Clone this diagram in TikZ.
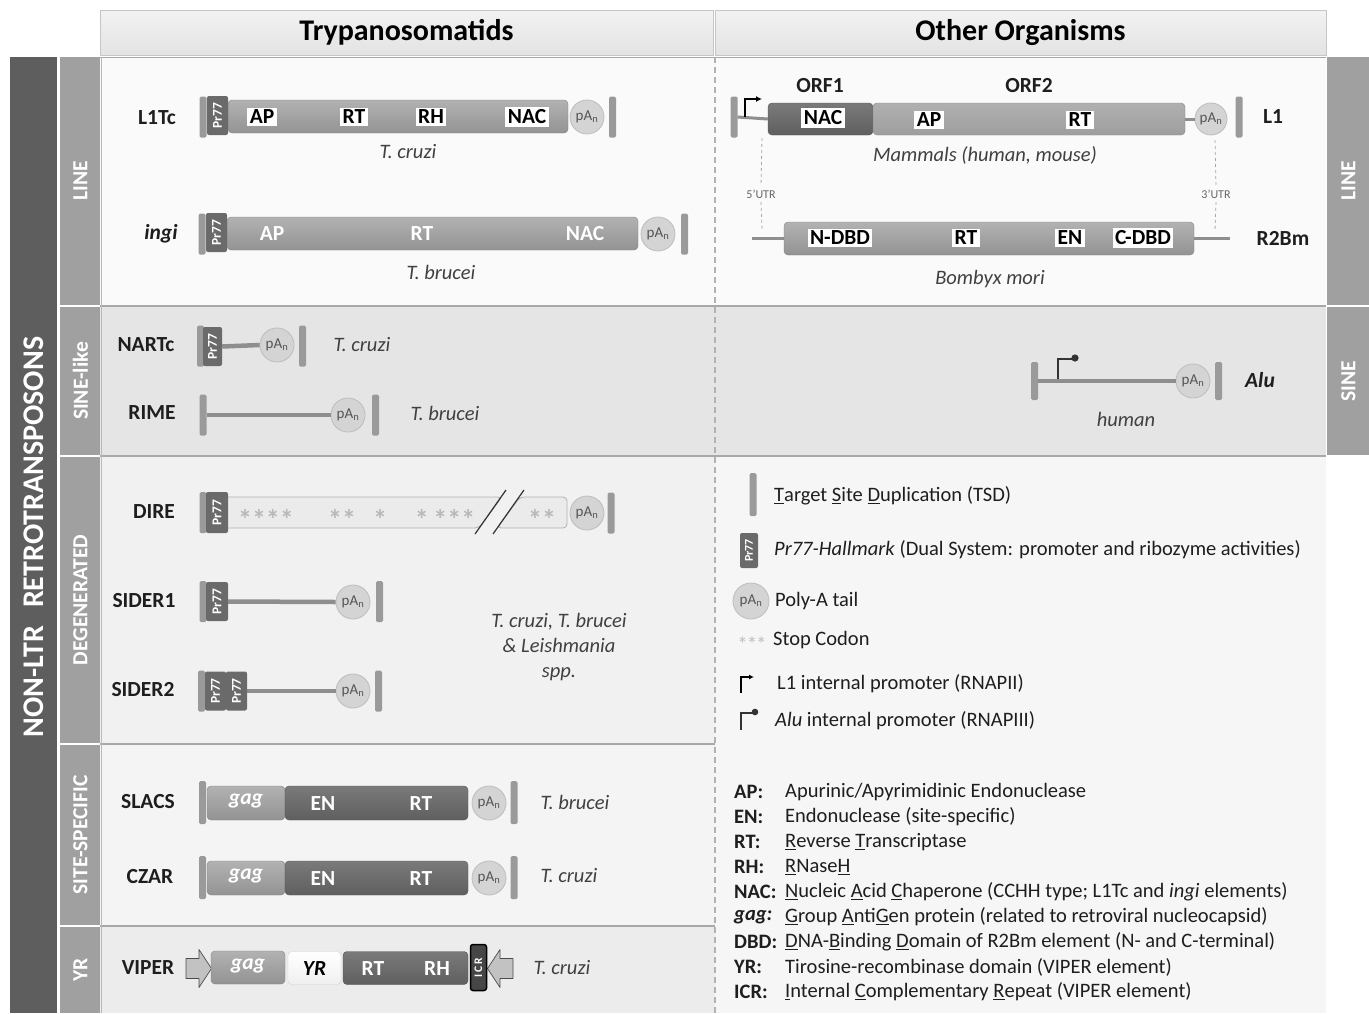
\documentclass[tikz,border=0pt]{standalone}
\usepackage{fontspec}
\setmainfont{Carlito}
\usetikzlibrary{arrows.meta}
\definecolor{darkbar}{HTML}{5E5E5E}
\definecolor{catc}{HTML}{A0A0A0}
\definecolor{tsdc}{HTML}{9A9A9A}
\definecolor{prc}{HTML}{6A6A6A}
\definecolor{bodyT}{HTML}{B2B2B2}
\definecolor{bodyB}{HTML}{939393}
\definecolor{darkT}{HTML}{7A7A7A}
\definecolor{darkB}{HTML}{5F5F5F}
\definecolor{pafill}{HTML}{D4D4D4}
\definecolor{padraw}{HTML}{BDBDBD}
\definecolor{patext}{HTML}{555555}
\definecolor{stemc}{HTML}{8E8E8E}
\definecolor{sepc}{HTML}{A8A8A8}
\definecolor{txt}{HTML}{1E1E1E}
\newcommand{\fsz}[2]{\fontsize{#1}{#2}\selectfont}
\begin{document}
\begin{tikzpicture}[x=1pt,y=-1pt,
  tsd/.style={fill=tsdc, rounded corners=1.5pt, minimum width=7pt, minimum height=41pt, inner sep=0pt},
  prbox/.style={fill=prc, rounded corners=2pt, minimum width=39pt, minimum height=21pt, inner sep=0pt, text=white, font=\fsz{13.5}{13.5}\bfseries, rotate=90},
  bodybox/.style={rounded corners=4pt, top color=bodyT, bottom color=bodyB, draw=bodyB!90!black, line width=0.4pt, minimum height=33pt, inner sep=0pt},
  darkbox/.style={rounded corners=4pt, top color=darkT, bottom color=darkB, draw=darkB!90!black, line width=0.4pt, minimum height=34pt, inner sep=0pt},
  lab/.style={fill=white, inner sep=2.5pt, text=black, font=\fsz{21.5}{21.5}\bfseries},
  wlab/.style={text=white, inner sep=0pt, font=\fsz{21.5}{21.5}\bfseries},
  pa/.style={circle, fill=pafill, draw=padraw, line width=0.8pt, minimum size=34pt, inner sep=0pt, text=patext, font=\fsz{15}{15}},
  stem/.style={draw=stemc, line width=4.5pt},
  thinstem/.style={draw=stemc, line width=3pt},
  ename/.style={text=txt, font=\fsz{21.5}{21.5}\bfseries},
  spec/.style={text=txt!85, font=\fsz{20.5}{20.5}\itshape},
  cat/.style={text=white, font=\fsz{21.5}{21.5}\bfseries, rotate=90},
  legt/.style={anchor=west, text=txt, font=\fsz{20.5}{20.5}, inner sep=0pt},
  abl/.style={anchor=west, text=txt, font=\fsz{20.5}{20.5}\bfseries, inner sep=0pt},
  hdr/.style={text=black, font=\fsz{30}{30}\bfseries},
  star/.style={text=gray!55, font=\fsz{28}{28}\bfseries, inner sep=0pt},
  arrowshape/.style={fill=gray!48, draw=gray!60!black, line width=0.7pt, line join=round}
]
\useasboundingbox (0,0) rectangle (1369,1013);
\fill[white] (0,0) rectangle (1369,1013);
% ---------- headers ----------
\node[draw=gray!45, top color=gray!10, bottom color=gray!22, minimum width=613pt, minimum height=45pt, inner sep=0pt] (hl) at (406.5,32.5) {};
\node[hdr] at (hl) {Trypanosomatids};
\node[draw=gray!45, top color=gray!10, bottom color=gray!22, minimum width=611pt, minimum height=45pt, inner sep=0pt] (hr) at (1020.5,32.5) {};
\node[hdr] at (hr) {Other Organisms};
% ---------- row backgrounds ----------
\fill[gray!4] (100,57) rectangle (1326,305);
\fill[gray!20] (100,307) rectangle (1326,455);
\fill[gray!11] (100,457) rectangle (715,743);
\fill[gray!9] (100,745) rectangle (715,925);
\fill[gray!15] (100,927) rectangle (715,1013);
\fill[gray!7] (715,457) rectangle (1326,1013);
\draw[sepc, line width=0.8pt] (100,57) -- (1326,57);
\draw[sepc, line width=2pt] (100,306) -- (1326,306);
\draw[sepc, line width=2pt] (100,456) -- (1326,456);
\draw[sepc, line width=2pt] (100,744) -- (715,744);
\draw[sepc, line width=2pt] (100,926) -- (715,926);
\draw[gray!55, line width=0.8pt] (101,57) -- (101,1013);
\draw[gray!60, line width=1.2pt, dash pattern=on 6pt off 4pt] (715,57) -- (715,1013);
% ---------- side bars ----------
\fill[darkbar] (10,57) rectangle (57,1013);
\node[text=white, font=\fsz{30}{30}\bfseries, rotate=90] at (33.5,537) {NON-LTR\hspace{0.6em}RETROTRANSPOSONS};
\fill[catc] (60,57) rectangle (100,305);
\fill[catc] (60,307) rectangle (100,455);
\fill[catc] (60,457) rectangle (100,743);
\fill[catc] (60,745) rectangle (100,925);
\fill[catc] (60,927) rectangle (100,1013);
\fill[catc] (1327,57) rectangle (1369,305);
\fill[catc] (1327,307) rectangle (1369,455);
\node[cat] at (80.5,181) {LINE};
\node[cat] at (80.5,381) {SINE-like};
\node[cat] at (80.5,600) {DEGENERATED};
\node[cat] at (80.5,835) {SITE-SPECIFIC};
\node[cat] at (80.5,970) {YR};
\node[cat] at (1348.5,181) {LINE};
\node[cat] at (1348.5,381) {SINE};
% ---------- L1Tc ----------
\node[ename] at (157,118) {L1Tc};
\node[tsd] (l1tcL) at (203,117) {};
\node[bodybox, minimum width=340pt] (l1tcB) at (398,116.5) {};
\node[prbox] (l1tcP) at (217.5,115.5) {Pr77};
\node[lab] at (262,117) {AP};
\node[lab] at (354,117) {RT};
\node[lab] at (431,117) {RH};
\node[lab] at (527,117) {NAC};
\node[pa] (l1tcA) at (587,117) {pA\textsubscript{n}};
\node[tsd] (l1tcR) at (612.5,117) {};
\node[spec] at (408,152) {T. cruzi};
% ---------- ingi ----------
\node[text=txt, font=\fsz{21.5}{21.5}\bfseries\itshape] at (161,234) {ingi};
\node[tsd] (ingiL) at (202,234) {};
\node[bodybox, minimum width=411pt] (ingiB) at (432.5,233.5) {};
\node[prbox] (ingiP) at (216.5,232.5) {Pr77};
\node[wlab] at (272,234) {AP};
\node[wlab] at (422,234) {RT};
\node[wlab] at (585,234) {NAC};
\node[pa] (ingiA) at (658,234) {pA\textsubscript{n}};
\node[tsd] (ingiR) at (684.5,234) {};
\node[spec] at (441,272) {T. brucei};
% ---------- L1 (mammals) ----------
\node[tsd] (l1L) at (734,117) {};
\node[darkbox, minimum width=105pt, minimum height=32pt] (orf1) at (820.5,119) {};
\node[bodybox, minimum width=312pt, minimum height=32pt, top color=gray!62, bottom color=gray!76] (orf2) at (1029,119) {};
\node[pa, minimum size=32pt] (l1A) at (1211,119) {pA\textsubscript{n}};
\draw[thinstem] (l1L.east) -- (orf1.west);
\draw[thinstem] (orf2.east) -- (l1A.west);
\coordinate (l1p0) at (745,117);
\coordinate (l1p1) at (762,99);
\draw[black, line width=1.4pt, -{Latex[length=6pt,width=6pt]}] (l1p0) |- (l1p1);
\node[lab] at (823,118) {NAC};
\node[lab] at (929,120) {AP};
\node[lab] at (1080,120) {RT};
\node[tsd] (l1R) at (1239,117) {};
\node[ename] at (1273,117) {L1};
\node[ename] at (820,86) {ORF1};
\node[ename] at (1029,86) {ORF2};
\node[spec] at (985,155) {Mammals (human, mouse)};
% UTR guides
\node[text=gray!80!black, font=\fsz{12}{12}] (utr5) at (761,194) {5’UTR};
\node[text=gray!80!black, font=\fsz{12}{12}] (utr3) at (1216,194) {3’UTR};
\coordinate (u5a) at (762,138);
\coordinate (u5b) at (762,230);
\coordinate (u3a) at (1215,140);
\coordinate (u3b) at (1215,230);
\draw[gray!70, line width=0.8pt, dashed] (u5a) -- (utr5.north);
\draw[gray!70, line width=0.8pt, dashed] (utr5.south) -- (u5b);
\draw[gray!70, line width=0.8pt, dashed] (u3a) -- (utr3.north);
\draw[gray!70, line width=0.8pt, dashed] (utr3.south) -- (u3b);
% ---------- R2Bm ----------
\coordinate (r2a) at (752,238);
\coordinate (r2b) at (1230,238);
\draw[thinstem] (r2a) -- (r2b);
\node[bodybox, minimum width=410pt] (r2B) at (989,238.5) {};
\node[lab] at (840,238) {N-DBD};
\node[lab] at (966,238) {RT};
\node[lab] at (1070,238) {EN};
\node[lab] at (1143,238) {C-DBD};
\node[ename] at (1283,238) {R2Bm};
\node[spec] at (990,279) {Bombyx mori};
% ---------- NARTc ----------
\node[ename] at (146,345) {NARTc};
\node[tsd] (nartL) at (200.5,346) {};
\node[prbox, minimum height=19pt] (nartP) at (212.5,346.5) {Pr77};
\node[pa] (nartA) at (277,345) {pA\textsubscript{n}};
\draw[stem] (nartP.south) -- (nartA.west);
\node[tsd] (nartR) at (302.5,346) {};
\node[spec] at (362,345) {T. cruzi};
% ---------- RIME ----------
\node[ename] at (152,413) {RIME};
\node[tsd] (rimeL) at (203,415) {};
\node[pa] (rimeA) at (348,415) {pA\textsubscript{n}};
\draw[stem] (rimeL.east) -- (rimeA.west);
\node[tsd] (rimeR) at (375.5,415) {};
\node[spec] at (445,413) {T. brucei};
% ---------- Alu ----------
\node[tsd, minimum height=38pt] (aluL) at (1034.5,381) {};
\node[pa] (aluA) at (1193,381) {pA\textsubscript{n}};
\draw[stem] (aluL.east) -- (aluA.west);
\coordinate (alup0) at (1058,379);
\coordinate (alup1) at (1073,359);
\draw[gray!40!black, line width=1.3pt] (alup0) |- (alup1);
\fill[gray!40!black] (1075,358) circle (3.6pt);
\node[tsd, minimum height=38pt] (aluR) at (1218.5,381) {};
\node[text=txt, font=\fsz{21.5}{21.5}\bfseries\itshape] at (1260,380) {Alu};
\node[spec] at (1126,419) {human};
% ---------- DIRE ----------
\node[ename] at (154,512) {DIRE};
\node[tsd] (direL) at (203,512.5) {};
\fill[gray!16, draw=gray!60, line width=0.8pt, rounded corners=4pt] (222,497) -- (502,497) -- (479,528) -- (222,528) -- cycle;
\fill[gray!16, draw=gray!60, line width=0.8pt, rounded corners=4pt] (520,497) -- (567,497) -- (567,528) -- (497,528) -- cycle;
\draw[gray!40!black, line width=1.2pt] (506,490) -- (475,534);
\draw[gray!40!black, line width=1.2pt] (524,490) -- (493,534);
\node[prbox, minimum width=41pt, minimum height=22pt] (direP) at (217,512.5) {Pr77};
\node[star] at (266,519) {****};
\node[star] at (342,519) {**};
\node[star] at (380,519) {*};
\node[star] at (445,519) {*\,***};
\node[star] at (542,519) {**};
\node[pa] (direA) at (587,513) {pA\textsubscript{n}};
\node[tsd] (direR) at (611,513) {};
% ---------- SIDER1 ----------
\node[ename] at (144,601) {SIDER1};
\node[tsd] (s1L) at (203,601.5) {};
\node[prbox, minimum height=22pt] (s1P) at (217,601.5) {Pr77};
\node[pa] (s1A) at (353,602) {pA\textsubscript{n}};
\draw[stem] (s1P.south) -- (s1A.west);
\node[tsd] (s1R) at (379.5,601.5) {};
% ---------- SIDER2 ----------
\node[ename] at (143,690) {SIDER2};
\node[tsd] (s2L) at (201.5,691) {};
\node[prbox, minimum height=21pt] (s2P) at (215.5,691) {Pr77};
\node[prbox, minimum height=21pt] (s2Q) at (236.5,691) {Pr77};
\node[pa] (s2A) at (353,691) {pA\textsubscript{n}};
\draw[stem] (s2Q.south) -- (s2A.west);
\node[tsd] (s2R) at (378.5,691) {};
\node[spec, align=center, font=\fsz{20.5}{25}\itshape] at (559,647) {T. cruzi, T. brucei\\\& Leishmania\\spp.};
% ---------- legend ----------
\node[tsd, minimum height=43pt] (lgT) at (753,494.5) {};
\node[legt] at (774,496) {\underline{T}arget \underline{S}ite \underline{D}uplication (TSD)};
\node[prbox, minimum width=35pt, minimum height=18pt, font=\fsz{12}{12}\bfseries] (lgP) at (749,550.5) {Pr77};
\node[legt] at (774,550) {\textit{Pr77-Hallmark} (Dual System: promoter and ribozyme activities)};
\node[pa, minimum size=36pt] (lgA) at (751,601) {pA\textsubscript{n}};
\node[legt] at (775,601) {Poly-A tail};
\node[star, font=\fsz{19}{19}\bfseries, text=gray!45] at (752,644) {***};
\node[legt] at (773,640) {Stop Codon};
\coordinate (lgl0) at (741,693);
\coordinate (lgl1) at (754,677);
\draw[black, line width=1.3pt, -{Latex[length=5pt,width=5pt]}] (lgl0) |- (lgl1);
\node[legt] at (777,684) {L1 internal promoter (RNAPII)};
\coordinate (lga0) at (741,730);
\coordinate (lga1) at (754,713);
\draw[gray!40!black, line width=1.2pt] (lga0) |- (lga1);
\fill[gray!40!black] (755,712) circle (3.3pt);
\node[legt] at (775,721) {\textit{Alu} internal promoter (RNAPIII)};
% abbreviations
\node[abl] at (734,792) {AP:};
\node[legt] at (785,792) {Apurinic/Apyrimidinic Endonuclease};
\node[abl] at (734,817) {EN:};
\node[legt] at (785,817) {Endonuclease (site-specific)};
\node[abl] at (734,842) {RT:};
\node[legt] at (785,842) {\underline{R}everse \underline{T}ranscriptase};
\node[abl] at (734,867) {RH:};
\node[legt] at (785,867) {\underline{R}Nase\underline{H}};
\node[abl] at (734,892) {NAC:};
\node[legt] at (785,892) {\underline{N}ucleic \underline{A}cid \underline{C}haperone (CCHH type; L1Tc and \textit{ingi} elements)};
\node[abl, font=\fsz{20.5}{20.5}\bfseries\itshape] at (734,917) {gag:};
\node[legt] at (785,917) {\underline{G}roup \underline{A}nti\underline{G}en protein (related to retroviral nucleocapsid)};
\node[abl] at (734,942) {DBD:};
\node[legt] at (785,942) {\underline{D}NA-\underline{B}inding \underline{D}omain of R2Bm element (N- and C-terminal)};
\node[abl] at (734,967) {YR:};
\node[legt] at (785,967) {Tirosine-recombinase domain (VIPER element)};
\node[abl] at (734,992) {ICR:};
\node[legt] at (785,992) {\underline{I}nternal \underline{C}omplementary \underline{R}epeat (VIPER element)};
% ---------- SLACS ----------
\node[ename] at (148,802) {SLACS};
\node[tsd, minimum height=43pt] (slL) at (202.5,802.5) {};
\node[bodybox, minimum width=78pt, minimum height=34pt] (slG) at (246,803) {};
\node[wlab, font=\fsz{21.5}{21.5}\bfseries\itshape] at (246,801) {gag};
\node[darkbox, minimum width=183pt] (slE) at (376.5,803) {};
\node[wlab] at (323,804) {EN};
\node[wlab] at (421,804) {RT};
\node[pa] (slA) at (489,803) {pA\textsubscript{n}};
\node[tsd, minimum height=43pt] (slR) at (514,802.5) {};
\node[spec] at (575,802) {T. brucei};
% ---------- CZAR ----------
\node[ename] at (150,877) {CZAR};
\node[tsd, minimum height=43pt] (czL) at (202.5,877.5) {};
\node[bodybox, minimum width=78pt, minimum height=34pt] (czG) at (246,878) {};
\node[wlab, font=\fsz{21.5}{21.5}\bfseries\itshape] at (246,876) {gag};
\node[darkbox, minimum width=183pt] (czE) at (376.5,878) {};
\node[wlab] at (323,879) {EN};
\node[wlab] at (421,879) {RT};
\node[pa] (czA) at (489,878) {pA\textsubscript{n}};
\node[tsd, minimum height=43pt] (czR) at (514,877.5) {};
\node[spec] at (569,876) {T. cruzi};
% ---------- VIPER ----------
\node[ename] at (148,968) {VIPER};
\draw[arrowshape] (186,958.5) -- (199,958.5) -- (199,949.5) -- (211.5,968.5) -- (199,987.5) -- (199,978.5) -- (186,978.5) -- cycle;
\node[bodybox, minimum width=74pt, minimum height=33pt] (vpG) at (248,967.5) {};
\node[wlab, font=\fsz{21.5}{21.5}\bfseries\itshape] at (248,966) {gag};
\node[rounded corners=4pt, top color=white, bottom color=gray!12, draw=gray!35, minimum width=53pt, minimum height=33pt, inner sep=0pt] (vpY) at (314.5,968) {};
\node[text=black, font=\fsz{21.5}{21.5}\bfseries\itshape] at (314.5,969) {YR};
\node[darkbox, minimum width=125pt, minimum height=33pt] (vpR) at (405.5,968) {};
\node[wlab] at (373,969) {RT};
\node[wlab] at (437,969) {RH};
\draw[arrowshape] (513,958.5) -- (500,958.5) -- (500,949.5) -- (487.5,968.5) -- (500,987.5) -- (500,978.5) -- (513,978.5) -- cycle;
\node[fill=gray!55!black, draw=black, line width=1.5pt, rounded corners=2.5pt, minimum width=46pt, minimum height=16pt, inner sep=0pt, rotate=90, text=white, font=\fsz{11.5}{11.5}\bfseries] (vpI) at (478.5,967.5) {I\,C\,R};
\node[spec] at (562,968) {T. cruzi};
\end{tikzpicture}
\end{document}
